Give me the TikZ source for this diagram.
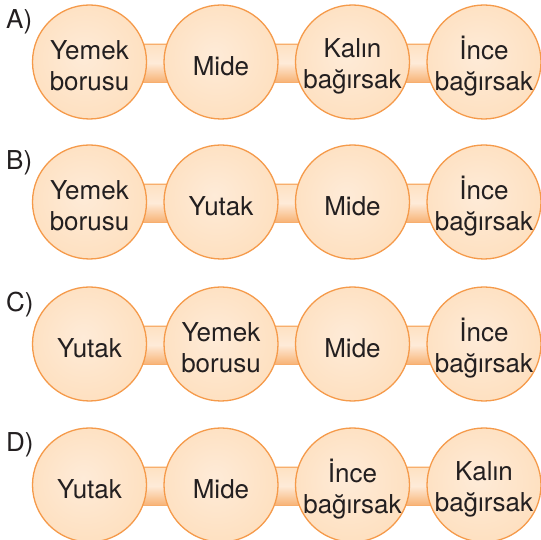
\documentclass[tikz,border=0pt]{standalone}
\usepackage{fontspec}
\setmainfont{TeX Gyre Heros}
\usetikzlibrary{calc}
\definecolor{peach}{HTML}{FEE1C2}
\definecolor{peachlight}{HTML}{FEEBD8}
\definecolor{peachdark}{HTML}{FCD2A6}
\definecolor{rim}{HTML}{F59A4A}
\definecolor{rimdark}{HTML}{EF7A1E}
\definecolor{ink}{HTML}{231F20}
\pgfdeclareradialshading{stopshade}{\pgfpoint{-3bp}{3bp}}{color(0bp)=(peachlight); color(25bp)=(peach); color(50bp)=(peachdark)}
\pgfdeclarelayer{background}
\pgfsetlayers{background,main}
\begin{document}
\begin{tikzpicture}[x=1pt,y=1pt,
  stop/.style={circle, minimum size=114pt, inner sep=0pt, shading=stopshade, draw=rim, line width=1.3pt},
  txt/.style={align=center, inner sep=0pt, text=ink, font=\fontsize{26}{31}\selectfont, yshift=-4pt},
  opt/.style={anchor=base west, inner sep=0pt, text=ink, font=\fontsize{26}{31}\selectfont},
  bar/.style={top color=peach, bottom color=peachdark!65!rimdark, middle color=peachlight, draw=rim!80, line width=0.8pt}]
\useasboundingbox (0,0) rectangle (540,540);

% A)
\node[opt] (la) at (6,511) {A)};
\node[stop] (a1) at (89.5,478) {};
\node[stop] (a2) at (221,478) {};
\node[stop] (a3) at (352.5,478) {};
\node[stop] (a4) at (484,478) {};
\node[txt] (a1t) at (a1) {Yemek\\borusu};
\node[txt] (a2t) at (a2) {Mide};
\node[txt] (a3t) at (a3) {Kalın\\bağırsak};
\node[txt] (a4t) at (a4) {İnce\\bağırsak};

% B)
\node[opt] (lb) at (6,370) {B)};
\node[stop] (b1) at (89.5,338) {};
\node[stop] (b2) at (221,338) {};
\node[stop] (b3) at (352.5,338) {};
\node[stop] (b4) at (484,338) {};
\node[txt] (b1t) at (b1) {Yemek\\borusu};
\node[txt] (b2t) at (b2) {Yutak};
\node[txt] (b3t) at (b3) {Mide};
\node[txt] (b4t) at (b4) {İnce\\bağırsak};

% C)
\node[opt] (lc) at (6,228) {C)};
\node[stop] (c1) at (89.5,196) {};
\node[stop] (c2) at (221,196) {};
\node[stop] (c3) at (352.5,196) {};
\node[stop] (c4) at (484,196) {};
\node[txt] (c1t) at (c1) {Yutak};
\node[txt] (c2t) at (c2) {Yemek\\borusu};
\node[txt] (c3t) at (c3) {Mide};
\node[txt] (c4t) at (c4) {İnce\\bağırsak};

% D)
\node[opt] (ld) at (6,88) {D)};
\node[stop] (d1) at (89.5,55) {};
\node[stop] (d2) at (221,55) {};
\node[stop] (d3) at (352.5,55) {};
\node[stop] (d4) at (484,55) {};
\node[txt] (d1t) at (d1) {Yutak};
\node[txt] (d2t) at (d2) {Mide};
\node[txt] (d3t) at (d3) {İnce\\bağırsak};
\node[txt] (d4t) at (d4) {Kalın\\bağırsak};

% connecting bars
\begin{pgfonlayer}{background}
\path[bar] ($(a1.center)+(0,18)$) rectangle ($(a4.center)+(0,-20)$);
\path[bar] ($(b1.center)+(0,18)$) rectangle ($(b4.center)+(0,-20)$);
\path[bar] ($(c1.center)+(0,18)$) rectangle ($(c4.center)+(0,-20)$);
\path[bar] ($(d1.center)+(0,18)$) rectangle ($(d4.center)+(0,-20)$);
\end{pgfonlayer}
\end{tikzpicture}
\end{document}
